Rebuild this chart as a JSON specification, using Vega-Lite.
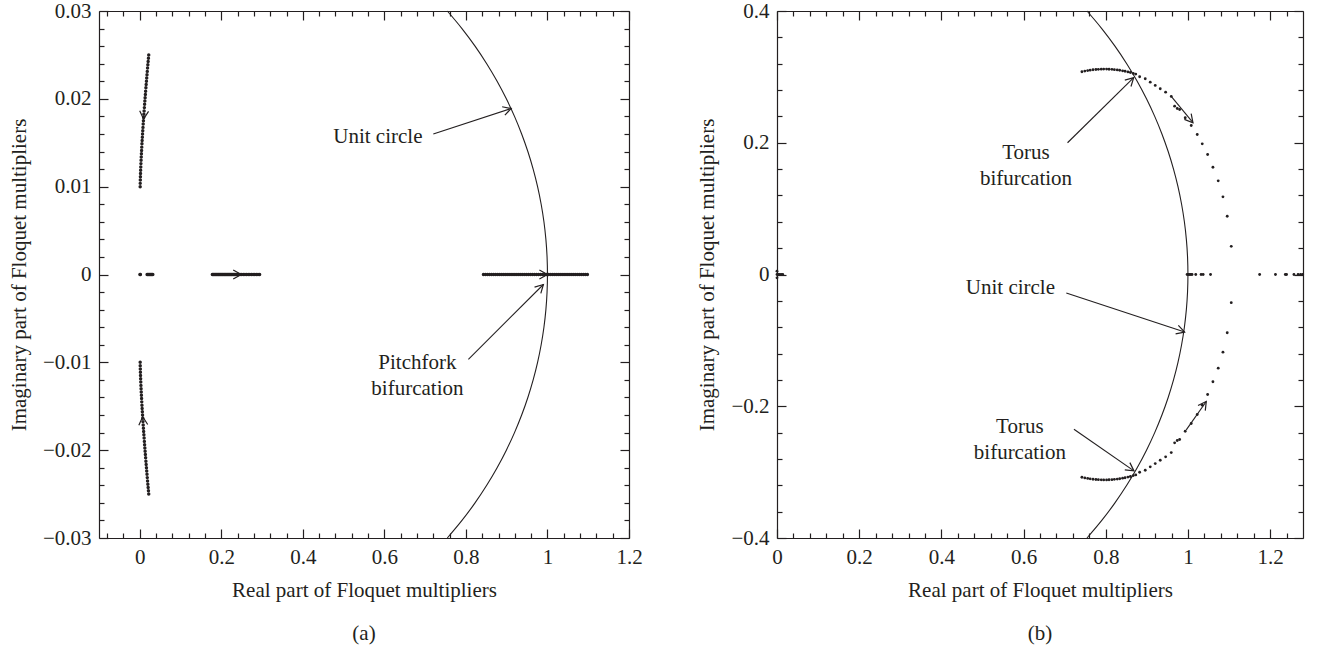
{
"$schema": "https://vega.github.io/schema/vega-lite/v6.json",
"background": "white",
"padding": {"left": 8, "top": 0, "right": 5, "bottom": 5},
"spacing": 53,
"config": {
 "view": {"stroke": null},
 "font": "Liberation Serif",
 "axis": {"domainColor": "#231f20", "tickColor": "#231f20", "labelColor": "#231f20", "titleColor": "#231f20", "labelFont": "Liberation Serif", "titleFont": "Liberation Serif", "labelFontSize": 21, "titleFontSize": 21, "titleFontWeight": "normal", "grid": false, "labelOverlap": false, "labelFlush": false, "domainWidth": 1.2, "tickWidth": 1.2, "labelPadding": 17},
 "axisX": {"titlePadding": 8},
 "axisY": {"titlePadding": 13}
},
"datasets": {
 "aPts": [
  {"x":0.001,"y":0.01},{"x":0.00112,"y":0.010375},{"x":0.00132,"y":0.01075},{"x":0.00156,"y":0.011125},{"x":0.00184,"y":0.0115},{"x":0.00214,"y":0.011875},{"x":0.00247,"y":0.01225},{"x":0.00283,"y":0.012625},{"x":0.00321,"y":0.013},{"x":0.0036,"y":0.013375},{"x":0.00402,"y":0.01375},{"x":0.00445,"y":0.014125},{"x":0.00489,"y":0.0145},{"x":0.00535,"y":0.014875},{"x":0.00583,"y":0.01525},{"x":0.00632,"y":0.015625},{"x":0.00682,"y":0.016},{"x":0.00734,"y":0.016375},{"x":0.00787,"y":0.01675},{"x":0.00841,"y":0.017125},{"x":0.00896,"y":0.0175},{"x":0.00952,"y":0.017875},{"x":0.0101,"y":0.01825},{"x":0.01068,"y":0.018625},{"x":0.01127,"y":0.019},{"x":0.01188,"y":0.019375},{"x":0.01249,"y":0.01975},{"x":0.01311,"y":0.020125},{"x":0.01374,"y":0.0205},{"x":0.01439,"y":0.020875},{"x":0.01504,"y":0.02125},{"x":0.0157,"y":0.021625},{"x":0.01637,"y":0.022},{"x":0.01704,"y":0.022375},{"x":0.01773,"y":0.02275},{"x":0.01842,"y":0.023125},{"x":0.01912,"y":0.0235},{"x":0.01983,"y":0.023875},{"x":0.02054,"y":0.02425},{"x":0.02127,"y":0.024625},{"x":0.022,"y":0.025},
  {"x":0.001,"y":-0.01},{"x":0.00112,"y":-0.010375},{"x":0.00132,"y":-0.01075},{"x":0.00156,"y":-0.011125},{"x":0.00184,"y":-0.0115},{"x":0.00214,"y":-0.011875},{"x":0.00247,"y":-0.01225},{"x":0.00283,"y":-0.012625},{"x":0.00321,"y":-0.013},{"x":0.0036,"y":-0.013375},{"x":0.00402,"y":-0.01375},{"x":0.00445,"y":-0.014125},{"x":0.00489,"y":-0.0145},{"x":0.00535,"y":-0.014875},{"x":0.00583,"y":-0.01525},{"x":0.00632,"y":-0.015625},{"x":0.00682,"y":-0.016},{"x":0.00734,"y":-0.016375},{"x":0.00787,"y":-0.01675},{"x":0.00841,"y":-0.017125},{"x":0.00896,"y":-0.0175},{"x":0.00952,"y":-0.017875},{"x":0.0101,"y":-0.01825},{"x":0.01068,"y":-0.018625},{"x":0.01127,"y":-0.019},{"x":0.01188,"y":-0.019375},{"x":0.01249,"y":-0.01975},{"x":0.01311,"y":-0.020125},{"x":0.01374,"y":-0.0205},{"x":0.01439,"y":-0.020875},{"x":0.01504,"y":-0.02125},{"x":0.0157,"y":-0.021625},{"x":0.01637,"y":-0.022},{"x":0.01704,"y":-0.022375},{"x":0.01773,"y":-0.02275},{"x":0.01842,"y":-0.023125},{"x":0.01912,"y":-0.0235},{"x":0.01983,"y":-0.023875},{"x":0.02054,"y":-0.02425},{"x":0.02127,"y":-0.024625},{"x":0.022,"y":-0.025},
  {"x":0.0005,"y":0},{"x":0.0015,"y":0},
  {"x":0.018,"y":0},{"x":0.02,"y":0},{"x":0.022,"y":0},{"x":0.024,"y":0},{"x":0.026,"y":0},{"x":0.028,"y":0},{"x":0.03,"y":0},{"x":0.032,"y":0},
  {"x":0.178,"y":0},{"x":0.18,"y":0},{"x":0.182,"y":0},{"x":0.184,"y":0},{"x":0.186,"y":0},{"x":0.188,"y":0},{"x":0.19,"y":0},{"x":0.192,"y":0},{"x":0.194,"y":0},{"x":0.196,"y":0},{"x":0.198,"y":0},{"x":0.2,"y":0},{"x":0.202,"y":0},{"x":0.204,"y":0},{"x":0.206,"y":0},{"x":0.208,"y":0},{"x":0.21,"y":0},{"x":0.212,"y":0},{"x":0.214,"y":0},{"x":0.216,"y":0},{"x":0.218,"y":0},{"x":0.22,"y":0},{"x":0.222,"y":0},{"x":0.224,"y":0},{"x":0.226,"y":0},{"x":0.228,"y":0},{"x":0.23,"y":0},{"x":0.232,"y":0},{"x":0.234,"y":0},{"x":0.236,"y":0},{"x":0.238,"y":0},{"x":0.24,"y":0},{"x":0.242,"y":0},{"x":0.246,"y":0},{"x":0.25,"y":0},{"x":0.254,"y":0},{"x":0.258,"y":0},{"x":0.262,"y":0},{"x":0.266,"y":0},{"x":0.27,"y":0},{"x":0.274,"y":0},{"x":0.278,"y":0},{"x":0.282,"y":0},{"x":0.286,"y":0},{"x":0.29,"y":0},{"x":0.294,"y":0},
  {"x":0.843,"y":0},{"x":0.848,"y":0},{"x":0.853,"y":0},{"x":0.858,"y":0},{"x":0.863,"y":0},{"x":0.868,"y":0},{"x":0.873,"y":0},{"x":0.878,"y":0},{"x":0.883,"y":0},{"x":0.888,"y":0},{"x":0.893,"y":0},{"x":0.898,"y":0},{"x":0.903,"y":0},{"x":0.908,"y":0},{"x":0.913,"y":0},{"x":0.918,"y":0},{"x":0.923,"y":0},{"x":0.928,"y":0},{"x":0.933,"y":0},{"x":0.938,"y":0},{"x":0.943,"y":0},{"x":0.948,"y":0},{"x":0.953,"y":0},{"x":0.958,"y":0},{"x":0.963,"y":0},{"x":0.968,"y":0},{"x":0.973,"y":0},{"x":0.978,"y":0},{"x":0.983,"y":0},{"x":0.988,"y":0},{"x":0.993,"y":0},{"x":0.998,"y":0},{"x":1.003,"y":0},{"x":1.008,"y":0},{"x":1.013,"y":0},{"x":1.018,"y":0},{"x":1.023,"y":0},{"x":1.028,"y":0},{"x":1.033,"y":0},{"x":1.038,"y":0},{"x":1.043,"y":0},{"x":1.048,"y":0},{"x":1.053,"y":0},{"x":1.058,"y":0},{"x":1.063,"y":0},{"x":1.068,"y":0},{"x":1.073,"y":0},{"x":1.078,"y":0},{"x":1.083,"y":0},{"x":1.088,"y":0},{"x":1.093,"y":0},{"x":1.098,"y":0}
 ],
 "aArc": [
  {"x":0.75436,"y":-0.03},{"x":0.79032,"y":-0.028},{"x":0.82238,"y":-0.026},{"x":0.851,"y":-0.024},{"x":0.8765,"y":-0.022},{"x":0.89915,"y":-0.02},{"x":0.91917,"y":-0.018},{"x":0.93671,"y":-0.016},{"x":0.95192,"y":-0.014},{"x":0.96491,"y":-0.012},{"x":0.97577,"y":-0.01},{"x":0.98456,"y":-0.008},{"x":0.99135,"y":-0.006},{"x":0.99616,"y":-0.004},{"x":0.99904,"y":-0.002},{"x":1,"y":0},{"x":0.99904,"y":0.002},{"x":0.99616,"y":0.004},{"x":0.99135,"y":0.006},{"x":0.98456,"y":0.008},{"x":0.97577,"y":0.01},{"x":0.96491,"y":0.012},{"x":0.95192,"y":0.014},{"x":0.93671,"y":0.016},{"x":0.91917,"y":0.018},{"x":0.89915,"y":0.02},{"x":0.8765,"y":0.022},{"x":0.851,"y":0.024},{"x":0.82238,"y":0.026},{"x":0.79032,"y":0.028},{"x":0.75436,"y":0.03}
 ],
 "aRules": [
  {"x":0.72,"y":0.016,"x2":0.911,"y2":0.0189},
  {"x":0.806,"y":-0.00966,"x2":0.99,"y2":-0.00114}
 ],
 "aHeads": [
  {"x":0.911,"y":0.0189,"a":342},{"x":0.99,"y":-0.00114,"a":315},{"x":0.0093,"y":0.0177,"a":94},{"x":0.0072,"y":-0.0162,"a":266},{"x":0.249,"y":0,"a":0},{"x":1.0,"y":0,"a":0}
 ],
 "aText": [
  {"x":0.584,"y":0.0156,"t":"Unit circle"},
  {"x":0.681,"y":-0.0101,"t":"Pitchfork\nbifurcation"}
 ],
 "bPts": [
  {"x":0,"y":0},{"x":0.003,"y":0},{"x":0.006,"y":0},{"x":0.01,"y":0},{"x":0.014,"y":0},{"x":0,"y":0.005},{"x":0,"y":-0.005},
  {"x":0.742,"y":0.3078},{"x":0.749,"y":0.3088},{"x":0.756,"y":0.3096},{"x":0.762,"y":0.3102},{"x":0.769,"y":0.3108},{"x":0.776,"y":0.3112},{"x":0.782,"y":0.3115},{"x":0.789,"y":0.3117},{"x":0.795,"y":0.3118},{"x":0.802,"y":0.3118},{"x":0.808,"y":0.3116},{"x":0.815,"y":0.3114},{"x":0.821,"y":0.311},{"x":0.828,"y":0.3105},{"x":0.834,"y":0.31},{"x":0.841,"y":0.3092},{"x":0.847,"y":0.3085},{"x":0.854,"y":0.3075},{"x":0.86,"y":0.3066},{"x":0.867,"y":0.3053},{"x":0.873,"y":0.3042},
  {"x":0.8825,"y":0.3002},{"x":0.8961,"y":0.2972},{"x":0.9083,"y":0.292},{"x":0.9204,"y":0.287},{"x":0.9326,"y":0.282},{"x":0.9457,"y":0.2768},{"x":0.9594,"y":0.2703},{"x":0.9676,"y":0.2555},{"x":0.974,"y":0.252},{"x":0.9798,"y":0.2505},{"x":0.9934,"y":0.2379},{"x":1.008,"y":0.2262},{"x":1.0226,"y":0.2125},{"x":1.0348,"y":0.1984},{"x":1.0479,"y":0.1822},{"x":1.0608,"y":0.1628},{"x":1.0737,"y":0.1422},{"x":1.0852,"y":0.1179},{"x":1.0956,"y":0.0884},{"x":1.1054,"y":0.0428},
  {"x":0.742,"y":-0.3078},{"x":0.749,"y":-0.3088},{"x":0.756,"y":-0.3096},{"x":0.762,"y":-0.3102},{"x":0.769,"y":-0.3108},{"x":0.776,"y":-0.3112},{"x":0.782,"y":-0.3115},{"x":0.789,"y":-0.3117},{"x":0.795,"y":-0.3118},{"x":0.802,"y":-0.3118},{"x":0.808,"y":-0.3116},{"x":0.815,"y":-0.3114},{"x":0.821,"y":-0.311},{"x":0.828,"y":-0.3105},{"x":0.834,"y":-0.31},{"x":0.841,"y":-0.3092},{"x":0.847,"y":-0.3085},{"x":0.854,"y":-0.3075},{"x":0.86,"y":-0.3066},{"x":0.867,"y":-0.3053},{"x":0.873,"y":-0.3042},
  {"x":0.8825,"y":-0.3002},{"x":0.8961,"y":-0.2972},{"x":0.9083,"y":-0.292},{"x":0.9204,"y":-0.287},{"x":0.9326,"y":-0.282},{"x":0.9457,"y":-0.2768},{"x":0.9594,"y":-0.2703},{"x":0.9676,"y":-0.2555},{"x":0.974,"y":-0.252},{"x":0.9798,"y":-0.2505},{"x":0.9934,"y":-0.2379},{"x":1.008,"y":-0.2262},{"x":1.0226,"y":-0.2125},{"x":1.0348,"y":-0.1984},{"x":1.0479,"y":-0.1822},{"x":1.0608,"y":-0.1628},{"x":1.0737,"y":-0.1422},{"x":1.0852,"y":-0.1179},{"x":1.0956,"y":-0.0884},{"x":1.1054,"y":-0.0428},
  {"x":0.998,"y":0},{"x":1.001,"y":0},{"x":1.004,"y":0},{"x":1.007,"y":0},{"x":1.01,"y":0},{"x":1.019,"y":0},{"x":1.032,"y":0},{"x":1.037,"y":0},{"x":1.055,"y":0},{"x":1.1745,"y":0},{"x":1.213,"y":0},{"x":1.237,"y":0},{"x":1.24,"y":0},{"x":1.258,"y":0},{"x":1.268,"y":0},{"x":1.274,"y":0},{"x":1.279,"y":0}
 ],
 "bArc": [
  {"x":0.75436,"y":-0.4},{"x":0.79032,"y":-0.37333},{"x":0.82238,"y":-0.34667},{"x":0.851,"y":-0.32},{"x":0.8765,"y":-0.29333},{"x":0.89915,"y":-0.26667},{"x":0.91917,"y":-0.24},{"x":0.93671,"y":-0.21333},{"x":0.95192,"y":-0.18667},{"x":0.96491,"y":-0.16},{"x":0.97577,"y":-0.13333},{"x":0.98456,"y":-0.10667},{"x":0.99135,"y":-0.08},{"x":0.99616,"y":-0.05333},{"x":0.99904,"y":-0.02667},{"x":1,"y":0},{"x":0.99904,"y":0.02667},{"x":0.99616,"y":0.05333},{"x":0.99135,"y":0.08},{"x":0.98456,"y":0.10667},{"x":0.97577,"y":0.13333},{"x":0.96491,"y":0.16},{"x":0.95192,"y":0.18667},{"x":0.93671,"y":0.21333},{"x":0.91917,"y":0.24},{"x":0.89915,"y":0.26667},{"x":0.8765,"y":0.29333},{"x":0.851,"y":0.32},{"x":0.82238,"y":0.34667},{"x":0.79032,"y":0.37333},{"x":0.75436,"y":0.4}
 ],
 "bRules": [
  {"x":0.707,"y":0.2,"x2":0.868,"y2":0.2988},
  {"x":0.704,"y":-0.028,"x2":0.992,"y2":-0.0874},
  {"x":0.7226,"y":-0.2348,"x2":0.8686,"y2":-0.2981},
  {"x":0.9594,"y":0.2703,"x2":1.0122,"y2":0.2304},
  {"x":0.9959,"y":-0.2358,"x2":1.0446,"y2":-0.1928}
 ],
 "bHeads": [
  {"x":0.868,"y":0.2988,"a":316},{"x":0.992,"y":-0.0874,"a":18},{"x":0.8686,"y":-0.2981,"a":35},{"x":1.0122,"y":0.2304,"a":50},{"x":1.0446,"y":-0.1928,"a":305}
 ],
 "bText": [
  {"x":0.606,"y":0.185,"t":"Torus\nbifurcation"},
  {"x":0.568,"y":-0.02,"t":"Unit circle"},
  {"x":0.591,"y":-0.232,"t":"Torus\nbifurcation"}
 ]
},
"hconcat": [
 {
  "width": 530, "height": 527,
  "title": {"text": "(a)", "orient": "bottom", "offset": 23, "font": "Liberation Serif", "fontSize": 21, "fontWeight": "normal", "color": "#231f20"},
  "layer": [
   {"data": {"name": "aPts"}, "mark": {"type": "circle", "size": 12, "color": "#231f20", "opacity": 1},
    "encoding": {
     "x": {"field": "x", "type": "quantitative", "scale": {"domain": [-0.1, 1.2], "nice": false, "zero": false},
       "axis": {"orient": "bottom", "title": "Real part of Floquet multipliers", "values": [-0.08,-0.04,0,0.04,0.08,0.12,0.16,0.2,0.24,0.28,0.32,0.36,0.4,0.44,0.48,0.52,0.56,0.6,0.64,0.68,0.72,0.76,0.8,0.84,0.88,0.92,0.96,1,1.04,1.08,1.12,1.16,1.2],
        "labelExpr": "abs(datum.value/0.2-round(datum.value/0.2))<1e-6 ? format(datum.value,'~g') : ''",
        "tickSize": {"condition": {"test": "abs(datum.value/0.2-round(datum.value/0.2))<1e-6", "value": -9}, "value": -5}}},
     "y": {"field": "y", "type": "quantitative", "scale": {"domain": [-0.03, 0.03], "nice": false, "zero": false},
       "axis": {"orient": "left", "title": "Imaginary part of Floquet multipliers", "values": [-0.03,-0.028,-0.026,-0.024,-0.022,-0.02,-0.018,-0.016,-0.014,-0.012,-0.01,-0.008,-0.006,-0.004,-0.002,0,0.002,0.004,0.006,0.008,0.01,0.012,0.014,0.016,0.018,0.02,0.022,0.024,0.026,0.028,0.03],
        "labelExpr": "abs(datum.value/0.01-round(datum.value/0.01))<1e-6 ? format(datum.value,'~g') : ''",
        "tickSize": {"condition": {"test": "abs(datum.value/0.01-round(datum.value/0.01))<1e-6", "value": -9}, "value": -5}}}
    }},
   {"data": {"name": "aArc"}, "mark": {"type": "line", "color": "#231f20", "strokeWidth": 1.1, "interpolate": "catmull-rom"},
    "encoding": {
     "x": {"field": "x", "type": "quantitative", "scale": {"domain": [-0.1, 1.2], "nice": false, "zero": false},
       "axis": {"orient": "top", "title": null, "labels": false, "values": [-0.08,-0.04,0,0.04,0.08,0.12,0.16,0.2,0.24,0.28,0.32,0.36,0.4,0.44,0.48,0.52,0.56,0.6,0.64,0.68,0.72,0.76,0.8,0.84,0.88,0.92,0.96,1,1.04,1.08,1.12,1.16,1.2],
        "tickSize": {"condition": {"test": "abs(datum.value/0.2-round(datum.value/0.2))<1e-6", "value": -9}, "value": -5}}},
     "y": {"field": "y", "type": "quantitative", "scale": {"domain": [-0.03, 0.03], "nice": false, "zero": false},
       "axis": {"orient": "right", "title": null, "labels": false, "values": [-0.03,-0.028,-0.026,-0.024,-0.022,-0.02,-0.018,-0.016,-0.014,-0.012,-0.01,-0.008,-0.006,-0.004,-0.002,0,0.002,0.004,0.006,0.008,0.01,0.012,0.014,0.016,0.018,0.02,0.022,0.024,0.026,0.028,0.03],
        "tickSize": {"condition": {"test": "abs(datum.value/0.01-round(datum.value/0.01))<1e-6", "value": -9}, "value": -5}}},
     "order": {"field": "y", "type": "quantitative"}
    }},
   {"data": {"name": "aRules"}, "mark": {"type": "rule", "color": "#231f20", "strokeWidth": 1.1},
    "encoding": {
     "x": {"field": "x", "type": "quantitative", "scale": {"domain": [-0.1, 1.2], "nice": false, "zero": false}, "axis": null},
     "y": {"field": "y", "type": "quantitative", "scale": {"domain": [-0.03, 0.03], "nice": false, "zero": false}, "axis": null},
     "x2": {"field": "x2"}, "y2": {"field": "y2"}
    }},
   {"data": {"name": "aHeads"}, "mark": {"type": "point", "shape": "M-1,-0.55L0,0L-1,0.55", "filled": false, "stroke": "#231f20", "strokeWidth": 1.2, "size": 260, "opacity": 1},
    "encoding": {
     "x": {"field": "x", "type": "quantitative", "scale": {"domain": [-0.1, 1.2], "nice": false, "zero": false}, "axis": null},
     "y": {"field": "y", "type": "quantitative", "scale": {"domain": [-0.03, 0.03], "nice": false, "zero": false}, "axis": null},
     "angle": {"field": "a", "type": "quantitative", "scale": null}
    }},
   {"data": {"name": "aText"}, "mark": {"type": "text", "font": "Liberation Serif", "fontSize": 21, "color": "#231f20", "align": "center", "baseline": "middle", "lineBreak": "\n", "lineHeight": 26},
    "encoding": {
     "x": {"field": "x", "type": "quantitative", "scale": {"domain": [-0.1, 1.2], "nice": false, "zero": false}, "axis": null},
     "y": {"field": "y", "type": "quantitative", "scale": {"domain": [-0.03, 0.03], "nice": false, "zero": false}, "axis": null},
     "text": {"field": "t"}
    }}
  ],
  "resolve": {"axis": {"x": "independent", "y": "independent"}}
 },
 {
  "width": 526, "height": 527,
  "title": {"text": "(b)", "orient": "bottom", "offset": 23, "font": "Liberation Serif", "fontSize": 21, "fontWeight": "normal", "color": "#231f20"},
  "layer": [
   {"data": {"name": "bPts"}, "mark": {"type": "circle", "size": 8, "color": "#231f20", "opacity": 1},
    "encoding": {
     "x": {"field": "x", "type": "quantitative", "scale": {"domain": [0, 1.28], "nice": false, "zero": false},
       "axis": {"orient": "bottom", "title": "Real part of Floquet multipliers", "values": [0,0.04,0.08,0.12,0.16,0.2,0.24,0.28,0.32,0.36,0.4,0.44,0.48,0.52,0.56,0.6,0.64,0.68,0.72,0.76,0.8,0.84,0.88,0.92,0.96,1,1.04,1.08,1.12,1.16,1.2,1.24],
        "labelExpr": "abs(datum.value/0.2-round(datum.value/0.2))<1e-6 ? format(datum.value,'~g') : ''",
        "tickSize": {"condition": {"test": "abs(datum.value/0.2-round(datum.value/0.2))<1e-6", "value": -9}, "value": -5}}},
     "y": {"field": "y", "type": "quantitative", "scale": {"domain": [-0.4, 0.4], "nice": false, "zero": false},
       "axis": {"orient": "left", "title": "Imaginary part of Floquet multipliers", "values": [-0.4,-0.36,-0.32,-0.28,-0.24,-0.2,-0.16,-0.12,-0.08,-0.04,0,0.04,0.08,0.12,0.16,0.2,0.24,0.28,0.32,0.36,0.4],
        "labelExpr": "abs(datum.value/0.2-round(datum.value/0.2))<1e-6 ? format(datum.value,'~g') : ''",
        "tickSize": {"condition": {"test": "abs(datum.value/0.2-round(datum.value/0.2))<1e-6", "value": -9}, "value": -5}}}
    }},
   {"data": {"name": "bArc"}, "mark": {"type": "line", "color": "#231f20", "strokeWidth": 1.1, "interpolate": "catmull-rom"},
    "encoding": {
     "x": {"field": "x", "type": "quantitative", "scale": {"domain": [0, 1.28], "nice": false, "zero": false},
       "axis": {"orient": "top", "title": null, "labels": false, "values": [0,0.04,0.08,0.12,0.16,0.2,0.24,0.28,0.32,0.36,0.4,0.44,0.48,0.52,0.56,0.6,0.64,0.68,0.72,0.76,0.8,0.84,0.88,0.92,0.96,1,1.04,1.08,1.12,1.16,1.2,1.24],
        "tickSize": {"condition": {"test": "abs(datum.value/0.2-round(datum.value/0.2))<1e-6", "value": -9}, "value": -5}}},
     "y": {"field": "y", "type": "quantitative", "scale": {"domain": [-0.4, 0.4], "nice": false, "zero": false},
       "axis": {"orient": "right", "title": null, "labels": false, "values": [-0.4,-0.36,-0.32,-0.28,-0.24,-0.2,-0.16,-0.12,-0.08,-0.04,0,0.04,0.08,0.12,0.16,0.2,0.24,0.28,0.32,0.36,0.4],
        "tickSize": {"condition": {"test": "abs(datum.value/0.2-round(datum.value/0.2))<1e-6", "value": -9}, "value": -5}}},
     "order": {"field": "y", "type": "quantitative"}
    }},
   {"data": {"name": "bRules"}, "mark": {"type": "rule", "color": "#231f20", "strokeWidth": 1.1},
    "encoding": {
     "x": {"field": "x", "type": "quantitative", "scale": {"domain": [0, 1.28], "nice": false, "zero": false}, "axis": null},
     "y": {"field": "y", "type": "quantitative", "scale": {"domain": [-0.4, 0.4], "nice": false, "zero": false}, "axis": null},
     "x2": {"field": "x2"}, "y2": {"field": "y2"}
    }},
   {"data": {"name": "bHeads"}, "mark": {"type": "point", "shape": "M-1,-0.55L0,0L-1,0.55", "filled": false, "stroke": "#231f20", "strokeWidth": 1.2, "size": 260, "opacity": 1},
    "encoding": {
     "x": {"field": "x", "type": "quantitative", "scale": {"domain": [0, 1.28], "nice": false, "zero": false}, "axis": null},
     "y": {"field": "y", "type": "quantitative", "scale": {"domain": [-0.4, 0.4], "nice": false, "zero": false}, "axis": null},
     "angle": {"field": "a", "type": "quantitative", "scale": null}
    }},
   {"data": {"name": "bText"}, "mark": {"type": "text", "font": "Liberation Serif", "fontSize": 21, "color": "#231f20", "align": "center", "baseline": "middle", "lineBreak": "\n", "lineHeight": 26},
    "encoding": {
     "x": {"field": "x", "type": "quantitative", "scale": {"domain": [0, 1.28], "nice": false, "zero": false}, "axis": null},
     "y": {"field": "y", "type": "quantitative", "scale": {"domain": [-0.4, 0.4], "nice": false, "zero": false}, "axis": null},
     "text": {"field": "t"}
    }}
  ],
  "resolve": {"axis": {"x": "independent", "y": "independent"}}
 }
]
}
